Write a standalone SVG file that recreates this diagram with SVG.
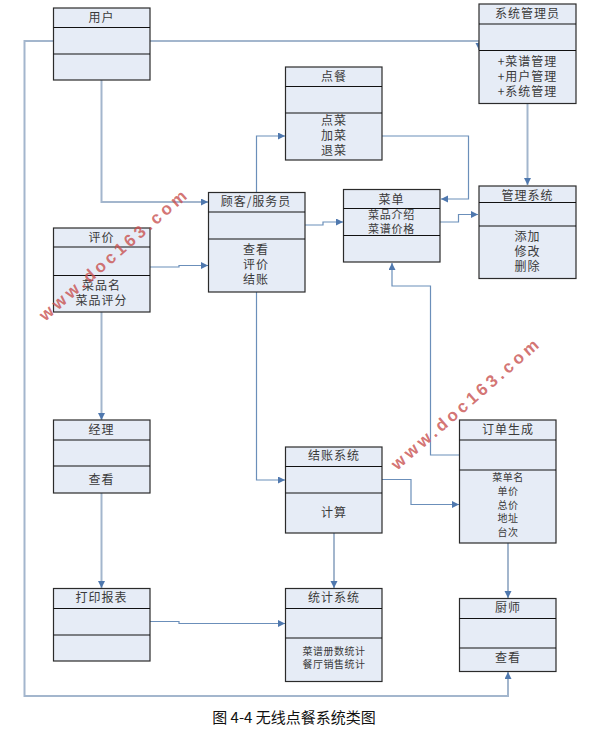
<svg xmlns="http://www.w3.org/2000/svg" width="603" height="730" viewBox="0 0 603 730">
<style>
.b{fill:#e6ecf6;stroke:#2b2b2b;stroke-width:1.2}
.d{stroke:#111;stroke-width:1;fill:none}
.t{font-family:"Noto Sans CJK SC","Liberation Sans",sans-serif;font-size:12px;letter-spacing:1px;fill:#3a3a3a;text-anchor:middle}
.s{font-size:11px;letter-spacing:.8px}
.x{font-size:10px;letter-spacing:.5px}
.c{fill:none;stroke:#6b8fba;stroke-width:1.2}
.w{stroke:#a3b6cd;stroke-width:2}
.m{font-family:"Liberation Sans",sans-serif;font-size:17px;font-weight:bold;fill:#c8504f;fill-opacity:.8;letter-spacing:3.6px;text-anchor:middle}
</style>
<defs>
<marker id="a" markerUnits="userSpaceOnUse" markerWidth="8" markerHeight="8" refX="7" refY="3.5" orient="auto"><path d="M0 0L7 3.5L0 7Z" fill="#4f78ae"/></marker>
</defs>
<g id="connectors">
<path class="c w" d="M53 41H24.500V696H508V672" marker-end="url(#a)"/>
<path class="c w" d="M150 41H479V50" marker-end="url(#a)"/>
<path class="c w" d="M101.500 80V202H208" marker-end="url(#a)"/>
<path class="c" d="M150 267H179V265.500H208" marker-end="url(#a)"/>
<path class="c w" d="M101.500 312V420" marker-end="url(#a)"/>
<path class="c w" d="M101.500 493V588" marker-end="url(#a)"/>
<path class="c" d="M150 621.500H179V623.500H285" marker-end="url(#a)"/>
<path class="c" d="M256.500 192V136H285" marker-end="url(#a)"/>
<path class="c" d="M256.500 292V480H285" marker-end="url(#a)"/>
<path class="c" d="M305 225H323V222H343" marker-end="url(#a)"/>
<path class="c" d="M382 136H468.500V199H441" marker-end="url(#a)"/>
<path class="c" d="M440 222H458.500V214.500H478" marker-end="url(#a)"/>
<path class="c w" d="M527.500 104V185" marker-end="url(#a)"/>
<path class="c" d="M459 455H430.500V286H392V263" marker-end="url(#a)"/>
<path class="c" d="M382 479.500H411V504.500H459" marker-end="url(#a)"/>
<path class="c w" d="M334 533V588" marker-end="url(#a)"/>
<path class="c w" d="M508 543V598" marker-end="url(#a)"/>
</g>
<g id="yonghu"><rect class="b" x="53.500" y="8" width="96.500" height="72"/><path class="d" d="M53.500 27.500H150M53.500 54H150"/><text class="t" x="101.500" y="22">用户</text></g>
<g id="pingjia"><rect class="b" x="53.500" y="228" width="96.500" height="84"/><path class="d" d="M53.500 247H150M53.500 275.500H150"/><text class="t" x="101.500" y="242">评价</text><text class="t" x="101.500" y="290">菜品名</text><text class="t" x="101.500" y="305">菜品评分</text></g>
<g id="guke"><rect class="b" x="208.500" y="192.500" width="96.500" height="99.500"/><path class="d" d="M208.500 212H305M208.500 239H305"/><text class="t" x="256" y="206">顾客/服务员</text><text class="t" x="256" y="254">查看</text><text class="t" x="256" y="269">评价</text><text class="t" x="256" y="284">结账</text></g>
<g id="diancan"><rect class="b" x="285.500" y="67" width="96.500" height="93"/><path class="d" d="M285.500 86.500H382M285.500 113H382"/><text class="t" x="334" y="81">点餐</text><text class="t" x="334" y="125">点菜</text><text class="t" x="334" y="140">加菜</text><text class="t" x="334" y="155">退菜</text></g>
<g id="caidan"><rect class="b" x="343.500" y="189.500" width="96.500" height="72.500"/><path class="d" d="M343.500 208.500H440M343.500 235.500H440"/><text class="t" x="391.500" y="203.500">菜单</text><text class="t s" x="391.500" y="218.500">菜品介绍</text><text class="t s" x="391.500" y="233">菜谱价格</text></g>
<g id="xitongguanliyuan"><rect class="b" x="479" y="4" width="97" height="99.500"/><path class="d" d="M479 24H576M479 50.500H576"/><text class="t" x="527.500" y="18">系统管理员</text><text class="t" x="527.500" y="66">+菜谱管理</text><text class="t" x="527.500" y="81">+用户管理</text><text class="t" x="527.500" y="96">+系统管理</text></g>
<g id="guanlixitong"><rect class="b" x="479" y="186" width="97" height="92.500"/><path class="d" d="M479 202.500H576M479 226H576"/><text class="t" x="527.500" y="199.500">管理系统</text><text class="t" x="527.500" y="241">添加</text><text class="t" x="527.500" y="256">修改</text><text class="t" x="527.500" y="271">删除</text></g>
<g id="jingli"><rect class="b" x="53.500" y="420" width="96.500" height="73"/><path class="d" d="M53.500 440H150M53.500 466H150"/><text class="t" x="101.500" y="434">经理</text><text class="t" x="101.500" y="484">查看</text></g>
<g id="dayinbaobiao"><rect class="b" x="53.500" y="588.500" width="96.500" height="72.500"/><path class="d" d="M53.500 608.500H150M53.500 635H150"/><text class="t" x="101.500" y="602">打印报表</text></g>
<g id="jiezhang"><rect class="b" x="285.500" y="447" width="96.500" height="86"/><path class="d" d="M285.500 466.500H382M285.500 493H382"/><text class="t" x="334" y="460">结账系统</text><text class="t" x="334" y="517">计算</text></g>
<g id="tongji"><rect class="b" x="285.500" y="588.500" width="96.500" height="93"/><path class="d" d="M285.500 608.500H382M285.500 638H382"/><text class="t" x="334" y="602">统计系统</text><text class="t x" x="334" y="655">菜谱册数统计</text><text class="t x" x="334" y="668">餐厅销售统计</text></g>
<g id="dingdan"><rect class="b" x="459.500" y="420" width="96.500" height="123"/><path class="d" d="M459.500 440H556M459.500 470H556"/><text class="t" x="508" y="434">订单生成</text><text class="t x" x="508" y="481">菜单名</text><text class="t x" x="508" y="494.500">单价</text><text class="t x" x="508" y="508.500">总价</text><text class="t x" x="508" y="522">地址</text><text class="t x" x="508" y="536">台次</text></g>
<g id="chushi"><rect class="b" x="459.500" y="598.500" width="96.500" height="73"/><path class="d" d="M459.500 618.500H556M459.500 648H556"/><text class="t" x="508" y="612">厨师</text><text class="t" x="508" y="662">查看</text></g>
<text class="m" transform="translate(114 254) rotate(-41)" x="0" y="6">www.doc163.com</text>
<text class="m" transform="translate(466 403) rotate(-41)" x="0" y="6">www.doc163.com</text>
<text x="294" y="723" font-family="Noto Sans CJK SC,Liberation Sans,sans-serif" font-size="15" fill="#111" text-anchor="middle">图 4-4 无线点餐系统类图</text>
</svg>
